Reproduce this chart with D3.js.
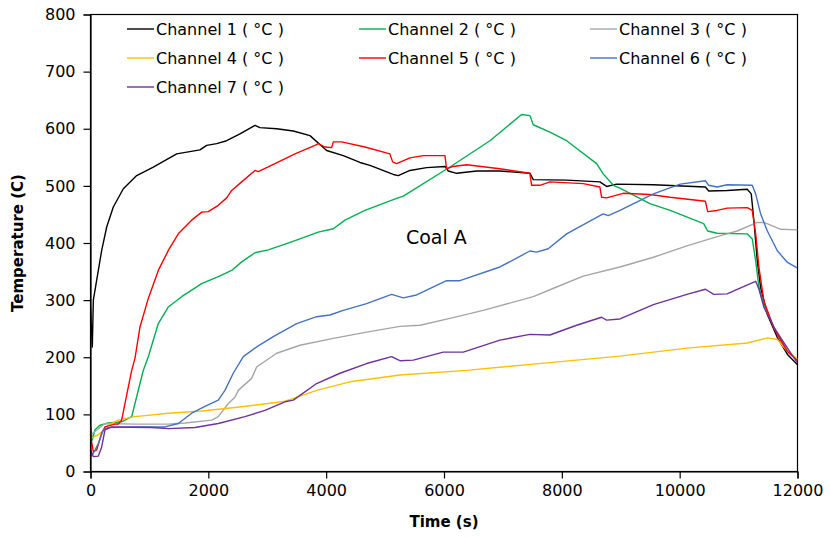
<!DOCTYPE html>
<html><head><meta charset="utf-8">
<script src="https://cdn.jsdelivr.net/npm/d3@7"></script>
<style>
body{margin:0;background:#fff;}
svg text{font-family:"DejaVu Sans",sans-serif;fill:#000;}
</style></head>
<body><svg id="c" width="830" height="538"></svg>
<script>
// ---- data (time s, temperature °C) ----
const seriesNames = ["Channel 1 ( °C )","Channel 2 ( °C )","Channel 3 ( °C )","Channel 4 ( °C )","Channel 5 ( °C )","Channel 6 ( °C )","Channel 7 ( °C )"];
const seriesColors = ["#000000","#00b050","#a6a6a6","#ffc000","#ff0000","#4472c4","#7030a0"];

const ch1 = [[0,288],[31,218],[48,300],[105,335],[190,387],[275,428],[387,463],[557,495],[784,518],[1066,533],[1463,556],[1858,563],[1972,571],[2141,574],[2311,579],[2537,591],[2792,606],[2876,602],[3160,600],[3442,596],[3725,588],[4008,562],[4290,553],[4573,541],[4743,536],[5139,520],[5224,518],[5422,527],[5705,532],[6016,534],[6073,526],[6214,522],[6554,526],[6949,526],[7458,522],[7515,511],[8081,510],[8646,507],[8760,499],[8930,503],[9554,502],[10437,498],[10493,491],[10806,492],[11147,494],[11215,486],[11260,439],[11317,369],[11374,322],[11488,275],[11660,234],[11830,205],[12000,187]];
const ch2 = [[0,78],[31,55],[76,73],[161,81],[302,85],[529,87],[699,96],[755,119],[840,154],[896,177],[981,201],[1151,259],[1321,288],[1547,306],[1887,329],[2169,341],[2396,352],[2566,367],[2792,383],[3017,388],[3414,402],[3866,419],[4121,425],[4319,440],[4658,457],[5196,478],[5309,482],[6101,533],[6780,579],[7317,625],[7458,623],[7515,607],[7798,594],[8081,579],[8590,539],[8703,521],[8873,501],[8986,496],[9495,469],[9839,457],[10408,434],[10476,421],[10635,417],[11147,416],[11232,407],[11290,369],[11346,322],[11431,292],[11603,252],[11830,210],[12000,195]];
const ch3 = [[0,64],[76,70],[246,84],[755,83],[1321,83],[1604,85],[2056,90],[2169,96],[2339,119],[2452,130],[2508,142],[2735,163],[2820,183],[3160,207],[3555,221],[4121,233],[4687,244],[5252,254],[5592,256],[6101,268],[6666,282],[7515,306],[7911,323],[8363,342],[8986,358],[9554,375],[10123,395],[10693,413],[10976,421],[11317,436],[11431,436],[11717,424],[12000,423]];
const ch4 = [[0,58],[133,64],[302,81],[472,90],[755,96],[1321,102],[1887,106],[2452,112],[3017,119],[3301,123],[3442,128],[3838,142],[4404,157],[5252,169],[6384,177],[7515,188],[8986,202],[10123,216],[11147,225],[11488,234],[11660,231],[11830,210],[12000,197]];
const ch5 = [[0,78],[8,58],[48,35],[105,38],[190,67],[246,78],[416,83],[472,83],[529,90],[585,119],[642,148],[699,177],[755,198],[840,253],[981,303],[1151,352],[1321,387],[1490,416],[1717,440],[1887,454],[1999,455],[2169,466],[2311,479],[2396,492],[2566,507],[2792,527],[2848,525],[3131,539],[3470,556],[3810,571],[3866,574],[3980,568],[4093,567],[4121,577],[4262,577],[4658,568],[5082,556],[5128,542],[5196,539],[5422,549],[5648,553],[6016,553],[6044,530],[6157,534],[6384,537],[6949,530],[7458,522],[7487,501],[7628,501],[7798,507],[8363,504],[8646,498],[8675,480],[8760,479],[9042,487],[9495,485],[9839,480],[10437,473],[10476,455],[10635,457],[10806,461],[11147,462],[11232,457],[11290,416],[11346,357],[11431,298],[11603,250],[11830,210],[12000,194]];
const ch6 = [[0,26],[48,32],[133,49],[218,73],[302,77],[755,78],[1264,78],[1490,84],[1717,102],[1943,114],[2169,125],[2282,142],[2423,172],[2593,201],[2820,218],[3102,236],[3499,259],[3838,271],[4064,274],[4290,282],[4687,294],[5111,310],[5309,304],[5535,309],[6044,334],[6270,334],[6949,358],[7458,386],[7572,384],[7769,390],[8081,416],[8646,448],[8703,451],[8788,448],[8986,457],[9554,486],[10009,503],[10437,509],[10493,501],[10635,498],[10806,502],[11232,501],[11290,486],[11374,451],[11488,421],[11660,386],[11830,366],[12000,356]];
const ch7 = [[0,38],[48,26],[133,27],[190,43],[246,73],[359,78],[1038,77],[1321,75],[1773,77],[2169,84],[2622,96],[2961,107],[3301,122],[3442,125],[3838,154],[4234,172],[4687,189],[5111,201],[5252,194],[5478,195],[5987,209],[6327,209],[6949,230],[7458,240],[7798,239],[8251,256],[8675,270],[8760,265],[8986,267],[9554,292],[10123,310],[10437,319],[10579,310],[10806,311],[10976,319],[11290,333],[11346,319],[11431,287],[11603,252],[11830,216],[12000,190]];
const allSeries = [ch1,ch2,ch3,ch4,ch5,ch6,ch7];

const xTicks = [0,2000,4000,6000,8000,10000,12000];
const yTicks = [0,100,200,300,400,500,600,700,800];
const annotation = "Coal A";
const annotationAt = [5870, 410];
const xTitle = "Time (s)";
const yTitle = "Temperature (C)";

// ---- chart ----
const svg = d3.select("#c");
const L = 90.5, R = 797.5, T = 14.5, B = 471.5;
const x = d3.scaleLinear().domain([0,12000]).range([L,R]);
const y = d3.scaleLinear().domain([0,800]).range([B,T]);

svg.append("defs").append("clipPath").attr("id","clip")
  .append("rect").attr("x",L).attr("y",T).attr("width",R-L).attr("height",B-T);

// plot frame
svg.append("rect").attr("x",L).attr("y",T).attr("width",R-L).attr("height",B-T)
  .attr("fill","none").attr("stroke","#000").attr("stroke-width",1.2);

const line = d3.line().x(d=>x(d[0])).y(d=>y(d[1]));
const g = svg.append("g").attr("clip-path","url(#clip)");
allSeries.forEach((s,i)=>{
  g.append("path").datum(s).attr("d",line).attr("fill","none")
    .attr("stroke",seriesColors[i]).attr("stroke-width",1.4).attr("stroke-linejoin","round");
});

// axes
const xAxis = svg.append("g").attr("transform",`translate(0,${B})`)
  .call(d3.axisBottom(x).tickValues(xTicks).tickFormat(d3.format("d")).tickSize(7).tickPadding(6));
const yAxis = svg.append("g").attr("transform",`translate(${L},0)`)
  .call(d3.axisLeft(y).tickValues(yTicks).tickFormat(d3.format("d")).tickSize(7).tickPadding(8));
[xAxis,yAxis].forEach(a=>{
  a.select(".domain").attr("stroke","#000").attr("stroke-width",1.2);
  a.selectAll(".tick line").attr("stroke","#000").attr("stroke-width",1.2);
  a.selectAll("text").style("font-family","DejaVu Sans").style("font-size","16px").attr("fill","#000");
});

// axis titles
svg.append("text").attr("x",(L+R)/2).attr("y",527).attr("text-anchor","middle")
  .style("font-size","15px").style("font-weight","bold").text(xTitle);
svg.append("text").attr("transform",`translate(23,${(T+B)/2}) rotate(-90)`).attr("text-anchor","middle")
  .style("font-size","15px").style("font-weight","bold").text(yTitle);

// annotation
svg.append("text").attr("x",x(annotationAt[0])).attr("y",y(annotationAt[1])).attr("dy","0.35em")
  .attr("text-anchor","middle").style("font-size","19px").text(annotation);

// legend
const legCols = [127, 359, 590];
const legRows = [29, 58, 87];
seriesNames.forEach((n,i)=>{
  const cx = legCols[i%3], cy = legRows[Math.floor(i/3)];
  svg.append("line").attr("x1",cx).attr("x2",cx+27).attr("y1",cy).attr("y2",cy)
    .attr("stroke",seriesColors[i]).attr("stroke-width",1.4);
  svg.append("text").attr("x",cx+29).attr("y",cy).attr("dy","0.35em")
    .style("font-size","16px").text(n);
});
</script></body></html>
